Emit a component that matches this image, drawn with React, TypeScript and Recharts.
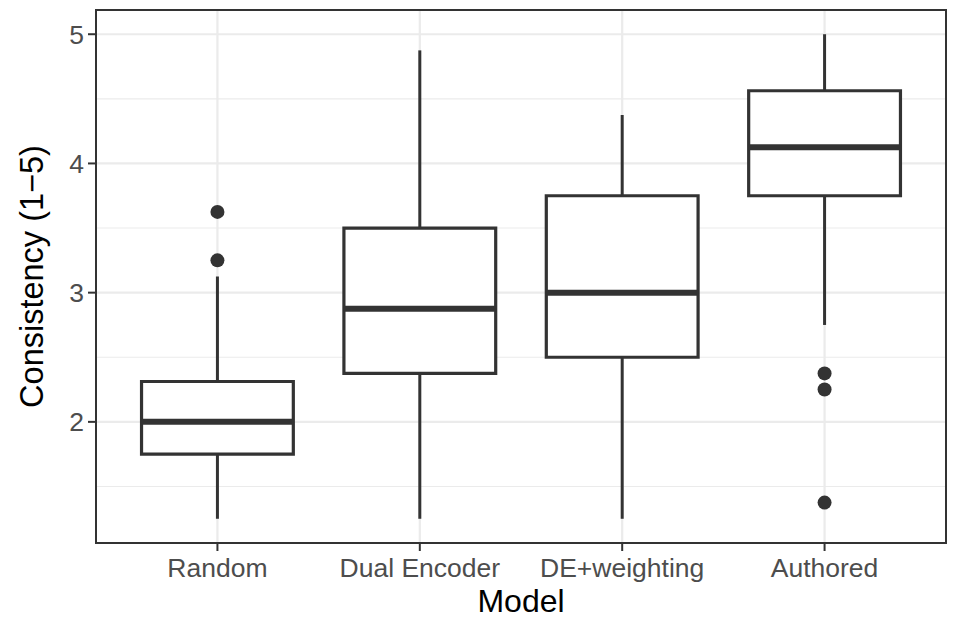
import { ComposedChart, XAxis, YAxis, CartesianGrid, ReferenceArea, ReferenceLine, Scatter } from "recharts";

const models = ["Random", "Dual Encoder", "DE+weighting", "Authored"];
const lower = [1.25, 1.25, 1.25, 2.75];
const q1 = [1.75, 2.375, 2.5, 3.75];
const median = [2.0, 2.875, 3.0, 4.125];
const q3 = [2.3125, 3.5, 3.75, 4.5625];
const upper = [3.125, 4.875, 4.375, 5.0];
const outliers = [
  { x: 1, y: 3.25 },
  { x: 1, y: 3.625 },
  { x: 4, y: 2.375 },
  { x: 4, y: 2.25 },
  { x: 4, y: 1.375 },
];
const yTicks = [2, 3, 4, 5];
const yMinor = [1.5, 2.5, 3.5, 4.5];
const xTicks = [1, 2, 3, 4];
const xDomain = [0.4, 4.6];
const yDomain = [1.0625, 5.1875];

const ink = "#333333";
const grid = "#EBEBEB";
const half = 0.375;
const font = "Liberation Sans, Arial, sans-serif";

export default function App() {
  return (
    <div style={{ position: "absolute", left: 0, top: 0, background: "#fff" }}>
      <ComposedChart width={955} height={619} margin={{ top: 10, right: 9, left: 0, bottom: 0 }}>
        <CartesianGrid stroke={grid} strokeWidth={1.1} vertical={false} horizontalValues={yMinor} />
        <CartesianGrid stroke={grid} strokeWidth={2.2} horizontalValues={yTicks} verticalValues={xTicks} />
        <XAxis
          type="number"
          dataKey="x"
          domain={xDomain}
          allowDataOverflow
          ticks={xTicks}
          tickFormatter={(v: number) => models[v - 1]}
          height={76}
          tickSize={8}
          tickMargin={7}
          axisLine={false}
          tickLine={{ stroke: ink, strokeWidth: 2 }}
          tick={{ fill: "#4D4D4D", fontSize: 26.5, fontFamily: font }}
          label={{
            value: "Model",
            position: "insideBottom",
            offset: 7,
            style: { fill: "#000", fontSize: 32, fontFamily: font },
          }}
        />
        <YAxis
          type="number"
          dataKey="y"
          domain={yDomain}
          allowDataOverflow
          ticks={yTicks}
          width={96}
          tickSize={8}
          tickMargin={4}
          axisLine={false}
          tickLine={{ stroke: ink, strokeWidth: 2 }}
          tick={{ fill: "#4D4D4D", fontSize: 26.5, fontFamily: font }}
          label={{
            value: "Consistency (1\u22125)",
            angle: -90,
            position: "insideLeft",
            offset: 31,
            style: { fill: "#000", fontSize: 32.5, fontFamily: font, textAnchor: "middle" },
          }}
        />
        {models.map((m, i) => (
          <ReferenceLine
            key={`lo-${m}`}
            segment={[{ x: i + 1, y: lower[i] }, { x: i + 1, y: q1[i] }]}
            stroke={ink}
            strokeWidth={3}
          />
        ))}
        {models.map((m, i) => (
          <ReferenceLine
            key={`hi-${m}`}
            segment={[{ x: i + 1, y: q3[i] }, { x: i + 1, y: upper[i] }]}
            stroke={ink}
            strokeWidth={3}
          />
        ))}
        {models.map((m, i) => (
          <ReferenceArea
            key={`box-${m}`}
            x1={i + 1 - half}
            x2={i + 1 + half}
            y1={q1[i]}
            y2={q3[i]}
            fill="#fff"
            fillOpacity={1}
            stroke={ink}
            strokeWidth={3.2}
          />
        ))}
        {models.map((m, i) => (
          <ReferenceLine
            key={`med-${m}`}
            segment={[{ x: i + 1 - half, y: median[i] }, { x: i + 1 + half, y: median[i] }]}
            stroke={ink}
            strokeWidth={6}
          />
        ))}
        <Scatter
          data={outliers}
          isAnimationActive={false}
          shape={(p: any) => <circle cx={p.cx} cy={p.cy} r={7} fill={ink} />}
        />
        <ReferenceArea
          x1={xDomain[0]}
          x2={xDomain[1]}
          y1={yDomain[0]}
          y2={yDomain[1]}
          fill="none"
          stroke={ink}
          strokeWidth={2}
          ifOverflow="visible"
        />
      </ComposedChart>
    </div>
  );
}
